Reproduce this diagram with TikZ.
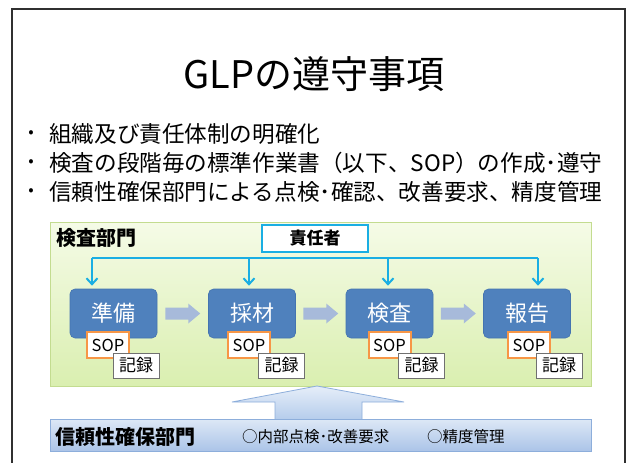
\documentclass[tikz,border=0pt]{standalone}
\usepackage{fontspec}
\setmainfont{Noto Sans CJK JP}
\usetikzlibrary{arrows.meta,calc}
\definecolor{frameC}{HTML}{303030}
\definecolor{greenTop}{HTML}{F5FBE7}
\definecolor{greenBot}{HTML}{DAEFB0}
\definecolor{greenLine}{HTML}{C3DC90}
\definecolor{procBlue}{HTML}{4F81BD}
\definecolor{procLine}{HTML}{4474B0}
\definecolor{cyanC}{HTML}{1AAEE3}
\definecolor{grayArrow}{HTML}{A7BADA}
\definecolor{sopC}{HTML}{F79646}
\definecolor{recC}{HTML}{707070}
\definecolor{qaTop}{HTML}{DDE8F6}
\definecolor{qaBot}{HTML}{ABC4E8}
\definecolor{qaLine}{HTML}{8DAEDB}
\definecolor{upTop}{HTML}{E6EEF9}
\definecolor{upBot}{HTML}{B3CBEB}
\begin{document}
\begin{tikzpicture}[x=1pt,y=-1pt,
  framestyle/.style={draw=frameC,line width=1.6pt},
  bullettext/.style={anchor=west,inner sep=0pt,font=\fontsize{22.6}{26}\selectfont},
  bulletdot/.style={inner sep=0pt,font=\fontsize{16}{18}\selectfont},
  deptbox/.style={draw=greenLine,line width=0.8pt,top color=greenTop,bottom color=greenBot,minimum width=541pt,minimum height=164pt,inner sep=0pt},
  bossbox/.style={draw=cyanC,line width=2pt,fill=white,minimum width=106pt,minimum height=27pt,inner sep=0pt,font=\fontsize{17}{19}\selectfont\bfseries},
  procbox/.style={draw=procLine,line width=0.6pt,fill=procBlue,rounded corners=5pt,minimum width=87pt,minimum height=49pt,inner sep=0pt,text=white,font=\fontsize{22}{24}\selectfont},
  sopbox/.style={draw=sopC,line width=2pt,fill=white,minimum width=42pt,minimum height=26pt,inner sep=0pt,font=\fontsize{16.5}{18}\selectfont},
  recbox/.style={draw=recC,line width=0.9pt,fill=white,minimum width=46pt,minimum height=25pt,inner sep=0pt,font=\fontsize{17}{19}\selectfont},
  busline/.style={draw=cyanC,line width=2pt},
  busarrow/.style={draw=cyanC,line width=2pt,-{Straight Barb[length=6pt,width=11pt,line width=2pt]},shorten >=3pt},
  grayarrow/.style={fill=grayArrow,draw=none},
  uparrow/.style={draw=qaLine,line width=0.8pt,top color=upTop,bottom color=upBot},
  qabox/.style={draw=qaLine,line width=0.8pt,top color=qaTop,bottom color=qaBot,minimum width=541pt,minimum height=32pt,inner sep=0pt}
]
\useasboundingbox (0,0) rectangle (630,463);
\fill[white] (0,0) rectangle (630,463);
\draw[framestyle] (12,475) -- (12,9) -- (625,9) -- (625,475);

% title
\node[font=\fontsize{38}{42}\selectfont] (title) at (314,74) {GLPの遵守事項};

% bullets
\node[bulletdot] (d1) at (31,134) {•};
\node[bullettext] (b1) at (49,134) {組織及び責任体制の明確化};
\node[bulletdot] (d2) at (31,163) {•};
\node[bullettext] (b2) at (49,163) {検査の段階毎の標準作業書（以下、SOP）の作成･遵守};
\node[bulletdot] (d3) at (31,192) {•};
\node[bullettext] (b3) at (49,192) {信頼性確保部門による点検･確認、改善要求、精度管理};

% department box
\node[deptbox] (dept) at (320.5,304) {};
\node[anchor=west,inner sep=0pt,font=\fontsize{20}{22}\selectfont\bfseries] (deptlabel) at (56,238) {検査部門};
\node[bossbox] (boss) at (315,238.5) {責任者};

% process boxes
\node[procbox] (p1) at (113.5,313.5) {準備};
\node[procbox] (p2) at (252,313.5) {採材};
\node[procbox] (p3) at (389.5,313.5) {検査};
\node[procbox] (p4) at (527,313.5) {報告};

% bus and arrows
\coordinate (a1) at (92,258);
\coordinate (a2) at (249,258);
\coordinate (a3) at (388,258);
\coordinate (a4) at (538,258);
\draw[busline] (a1) -- (a4);
\draw[busarrow] (a1) -- (a1 |- p1.north);
\draw[busarrow] (a2) -- (a2 |- p2.north);
\draw[busarrow] (a3) -- (a3 |- p3.north);
\draw[busarrow] (a4) -- (a4 |- p4.north);

% gray block arrows
\foreach \a/\b in {p1/p2,p2/p3,p3/p4}{
  \path[grayarrow] ($(\a.east)!0.5!(\b.west)$) ++(-17.5,-6) -- ++(23,0) -- ++(0,-4) -- ++(12,10) -- ++(-12,10) -- ++(0,-4) -- ++(-23,0) -- cycle;
}

% SOP and records
\node[sopbox] (s1) at (108,345) {SOP};
\node[recbox] (r1) at (136,365.5) {記録};
\node[sopbox] (s2) at (249,345) {SOP};
\node[recbox] (r2) at (281.5,365.5) {記録};
\node[sopbox] (s3) at (389.5,345) {SOP};
\node[recbox] (r3) at (421.5,365.5) {記録};
\node[sopbox] (s4) at (529,345) {SOP};
\node[recbox] (r4) at (559,365.5) {記録};

% big up arrow
\path[uparrow] (275,421) -- (275,402) -- (232,402) -- (317,386) -- (404,402) -- (362,402) -- (362,421) -- cycle;

% QA box
\node[qabox] (qa) at (320.5,435) {};
\node[anchor=west,inner sep=0pt,font=\fontsize{20}{22}\selectfont\bfseries] (qalabel) at (55,437) {信頼性確保部門};
\node[anchor=west,inner sep=0pt,font=\fontsize{15.5}{17}\selectfont] (qa1) at (242,437) {○内部点検･改善要求};
\node[anchor=west,inner sep=0pt,font=\fontsize{15.5}{17}\selectfont] (qa2) at (427,437) {○精度管理};
\end{tikzpicture}
\end{document}
